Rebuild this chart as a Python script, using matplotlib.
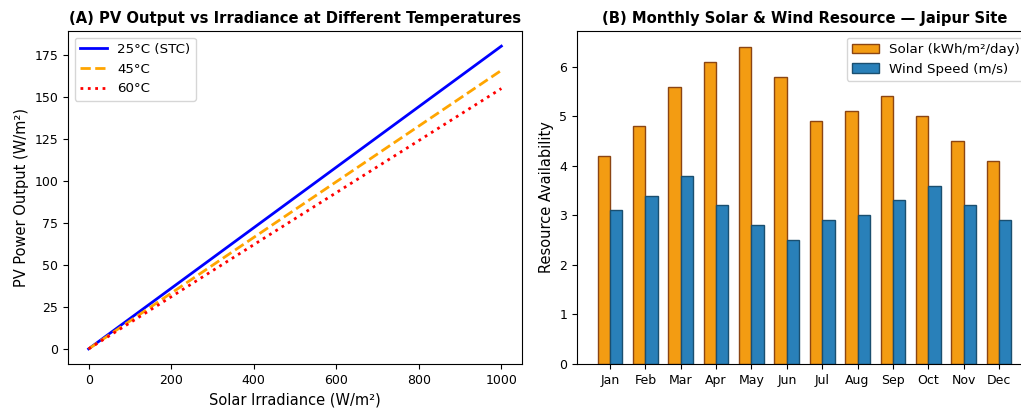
import matplotlib
matplotlib.use("Agg")
import matplotlib.pyplot as plt
import numpy as np

irradiance = [0, 200, 400, 600, 800, 1000]
pv_25 = [0, 36.0, 72.0, 108.0, 144.0, 180.0]
pv_45 = [0, 33.12, 66.24, 99.36, 132.48, 165.6]
pv_60 = [0, 30.96, 61.92, 92.88, 123.84, 154.8]

months = ["Jan", "Feb", "Mar", "Apr", "May", "Jun", "Jul", "Aug", "Sep", "Oct", "Nov", "Dec"]
solar = [4.2, 4.8, 5.6, 6.1, 6.4, 5.8, 4.9, 5.1, 5.4, 5.0, 4.5, 4.1]
wind = [3.1, 3.4, 3.8, 3.2, 2.8, 2.5, 2.9, 3.0, 3.3, 3.6, 3.2, 2.9]

W, H = 1021, 409
fig = plt.figure(figsize=(W / 100, H / 100), dpi=100)

def box(l, r, t, b):
    return [l / W, 1 - b / H, (r - l) / W, (b - t) / H]

ax1 = fig.add_axes(box(68, 522, 31, 364))
ax2 = fig.add_axes(box(577, 1032, 31, 364))

ax1.plot(irradiance, pv_25, color="blue", lw=2, ls="-", label="25°C (STC)")
ax1.plot(irradiance, pv_45, color="orange", lw=2, ls="--", label="45°C")
ax1.plot(irradiance, pv_60, color="red", lw=2, ls=":", label="60°C")
ax1.set_title("(A) PV Output vs Irradiance at Different Temperatures", fontsize=10.6, fontweight="bold")
ax1.set_xlabel("Solar Irradiance (W/m²)", fontsize=10.5)
ax1.set_ylabel("PV Power Output (W/m²)", fontsize=10.5)
ax1.tick_params(labelsize=9)
ax1.legend(loc="upper left", fontsize=9.6)

x = np.arange(len(months))
w = 0.35
ax2.bar(x - w / 2, solar, w, color="#f39c12", edgecolor="#8b4513", label="Solar (kWh/m²/day)")
ax2.bar(x + w / 2, wind, w, color="#2980b9", edgecolor="#1a4f70", label="Wind Speed (m/s)")
ax2.set_xticks(x)
ax2.set_xticklabels(months)
ax2.set_title("(B) Monthly Solar & Wind Resource — Jaipur Site", fontsize=10.6, fontweight="bold")
ax2.set_ylabel("Resource Availability", fontsize=10.5)
ax2.tick_params(labelsize=9)
ax2.legend(loc="upper right", fontsize=9.6)

fig.savefig("out.png", dpi=100)
